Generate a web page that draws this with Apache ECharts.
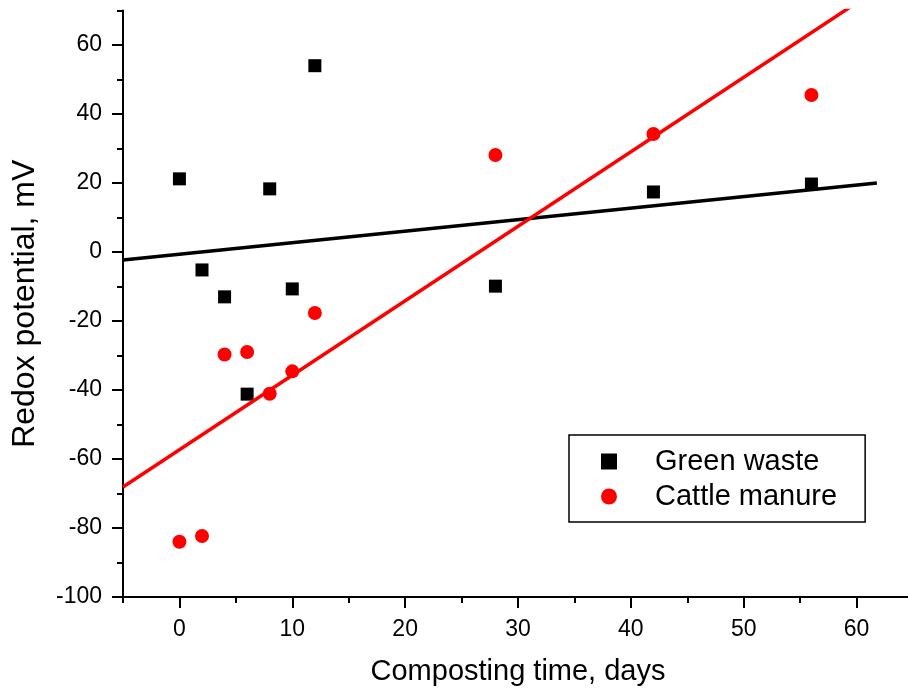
<!DOCTYPE html>
<html>
<head>
<meta charset="utf-8">
<script src="https://cdn.jsdelivr.net/npm/echarts@6/dist/echarts.min.js"></script>
<style>
html,body{margin:0;padding:0;background:#fff;}
#chart{width:908px;height:691px;}
</style>
</head>
<body>
<div id="chart"></div>
<script>
// Composting time (days)
var days = [0, 2, 4, 6, 8, 10, 12, 28, 42, 56];
// Redox potential (mV)
var greenWaste = [21.2, -5.2, -13, -41.2, 18.3, -10.7, 54, -9.9, 17.4, 19.7];
var cattleManure = [-84, -82.3, -29.7, -29, -41.1, -34.6, -17.7, 28.1, 34.2, 45.5];
// Linear fit lines, endpoints
var greenFitX = [-5, 61.8];
var greenFitY = [-2.3, 20.0];
var cattleFitX = [-5, 61.8];
var cattleFitY = [-68.1, 76.1];
// Tick values
var xMajorTicks = [0, 10, 20, 30, 40, 50, 60];
var xMinorTicks = [-5, 5, 15, 25, 35, 45, 55, 65];
var yMajorTicks = [-100, -80, -60, -40, -20, 0, 20, 40, 60];
var yMinorTicks = [-90, -70, -50, -30, -10, 10, 30, 50, 70];

function zip(a, b) { return a.map(function (v, i) { return [v, b[i]]; }); }

var FONT = 'Liberation Sans, Arial, sans-serif';
var chart = echarts.init(document.getElementById('chart'), null, {renderer: 'canvas'});
var option = {
  animation: false,
  backgroundColor: '#fff',
  grid: {left: 123, right: -5, top: 10.5, bottom: 94, containLabel: false, outerBoundsMode: 'none'},
  legend: {
    left: 569, top: 435,
    orient: 'vertical',
    data: ['Green waste', 'Cattle manure'],
    itemWidth: 16, itemHeight: 16,
    itemGap: 6,
    padding: [12, 28, 11, 32],
    borderColor: '#000', borderWidth: 1.5,
    textStyle: {fontFamily: FONT, fontSize: 29, color: '#000', padding: [0, 0, 0, 33]}
  },
  xAxis: [{
    type: 'value', position: 'bottom', min: -5, max: 65,
    name: 'Composting time, days', nameLocation: 'middle', nameGap: 60,
    nameTextStyle: {fontFamily: FONT, fontSize: 29, color: '#000'},
    axisLine: {onZero: false, lineStyle: {color: '#000', width: 2}},
    axisTick: {show: true, customValues: xMajorTicks, length: 11, lineStyle: {color: '#000', width: 2}},
    axisLabel: {customValues: xMajorTicks, margin: 21, fontFamily: FONT, fontSize: 23, color: '#000'},
    splitLine: {show: false}
  }, {
    type: 'value', position: 'bottom', min: -5, max: 65,
    axisLine: {show: false, onZero: false},
    axisTick: {show: true, customValues: xMinorTicks, length: 6, lineStyle: {color: '#000', width: 2}},
    axisLabel: {show: false},
    splitLine: {show: false}
  }],
  yAxis: [{
    type: 'value', position: 'left', min: -100, max: 70,
    name: 'Redox potential, mV', nameLocation: 'middle', nameGap: 82,
    nameTextStyle: {fontFamily: FONT, fontSize: 32, color: '#000'},
    axisLine: {show: true, onZero: false, lineStyle: {color: '#000', width: 2}},
    axisTick: {show: true, customValues: yMajorTicks, length: 11, lineStyle: {color: '#000', width: 2}},
    axisLabel: {customValues: yMajorTicks, margin: 21, fontFamily: FONT, fontSize: 23, color: '#000'},
    splitLine: {show: false}
  }, {
    type: 'value', position: 'left', min: -100, max: 70,
    axisLine: {show: false, onZero: false},
    axisTick: {show: true, customValues: yMinorTicks, length: 6, lineStyle: {color: '#000', width: 2}},
    axisLabel: {show: false},
    splitLine: {show: false}
  }],
  series: [{
    type: 'line', name: 'fit1', data: zip(greenFitX, greenFitY),
    showSymbol: false, symbol: 'none', clip: true,
    lineStyle: {color: '#000', width: 3.5}, silent: true
  }, {
    type: 'line', name: 'fit2', data: zip(cattleFitX, cattleFitY),
    showSymbol: false, symbol: 'none', clip: true,
    lineStyle: {color: '#ff0000', width: 3.5}, silent: true
  }, {
    type: 'scatter', name: 'Green waste', data: zip(days, greenWaste),
    symbol: 'rect', symbolSize: 13, itemStyle: {color: '#000', opacity: 1}
  }, {
    type: 'scatter', name: 'Cattle manure', data: zip(days, cattleManure),
    symbol: 'circle', symbolSize: 14, itemStyle: {color: '#ff0000', opacity: 1}
  }]
};
chart.setOption(option);
</script>
</body>
</html>
